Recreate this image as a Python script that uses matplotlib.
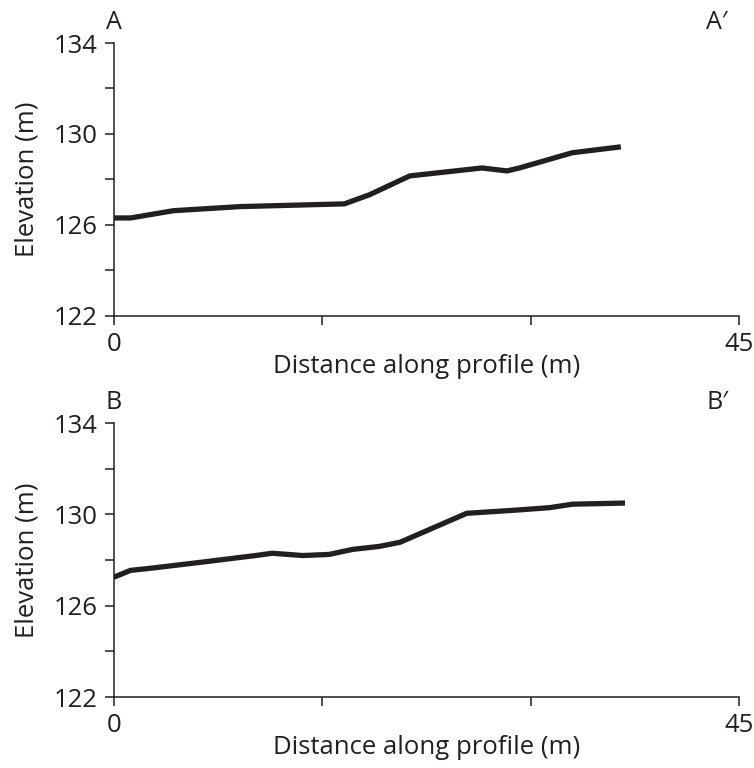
import matplotlib
matplotlib.use('Agg')
import matplotlib.pyplot as plt

# profile A-A'
dist_a = [0, 1.2, 4.3, 9.1, 16.6, 18.4, 21.3, 26.5, 28.3, 29.2, 33.0, 36.5]
elev_a = [126.3, 126.3, 126.62, 126.8, 126.92, 127.32, 128.15, 128.5, 128.37, 128.5, 129.17, 129.43]

# profile B-B'
dist_b = [0, 1.2, 2.6, 6.2, 10.2, 11.4, 13.6, 15.5, 17.2, 19.1, 20.6, 25.4, 29.2, 31.4, 33.0, 36.8]
elev_b = [127.25, 127.55, 127.64, 127.9, 128.2, 128.3, 128.2, 128.25, 128.47, 128.6, 128.78, 130.05, 130.2, 130.3, 130.45, 130.5]

profiles = [('A', "A\u2032", dist_a, elev_a), ('B', "B\u2032", dist_b, elev_b)]

ink = '#231f20'
plt.rcParams['font.family'] = ['Open Sans', 'DejaVu Sans']
plt.rcParams['text.color'] = ink

fig = plt.figure(figsize=(7.54, 7.68), dpi=100)
boxes = [[0.151, 0.589, 0.829, 0.355], [0.151, 0.0924, 0.829, 0.3566]]

for box, (start, end, x, y) in zip(boxes, profiles):
    ax = fig.add_axes(box)
    ax.plot(x, y, color=ink, linewidth=3.8, solid_joinstyle='round', solid_capstyle='butt')
    ax.set_xlim(0, 45)
    ax.set_ylim(122, 134)
    ax.spines['top'].set_visible(False)
    ax.spines['right'].set_visible(False)
    for s in ['left', 'bottom']:
        ax.spines[s].set_linewidth(1.1)
        ax.spines[s].set_color(ink)
    ax.set_xticks([0, 15, 30, 45])
    ax.set_xticklabels(['0', '', '', '45'])
    ax.set_yticks([122, 124, 126, 128, 130, 132, 134])
    ax.set_yticklabels(['122', '', '126', '', '130', '', '134'])
    ax.tick_params(axis='both', direction='out', length=6.5, width=1.1, color=ink,
                   labelsize=18.5, labelcolor=ink, pad=5)
    ax.set_xlabel('Distance along profile (m)', fontsize=18.5, color=ink)
    ax.set_ylabel('Elevation (m)', fontsize=18.5, color=ink)
    ax.xaxis.set_label_coords(0.5, -0.185)
    ax.yaxis.set_label_coords(-0.139, 0.5)
    ax.xaxis.label.set_va('center')
    ax.yaxis.label.set_va('center')
    ax.text(0.0, 1.03, start, transform=ax.transAxes, fontsize=18, ha='center', va='bottom')
    ax.text(0.965, 1.03, end, transform=ax.transAxes, fontsize=18, ha='center', va='bottom')

fig.savefig('out.png', dpi=100)
